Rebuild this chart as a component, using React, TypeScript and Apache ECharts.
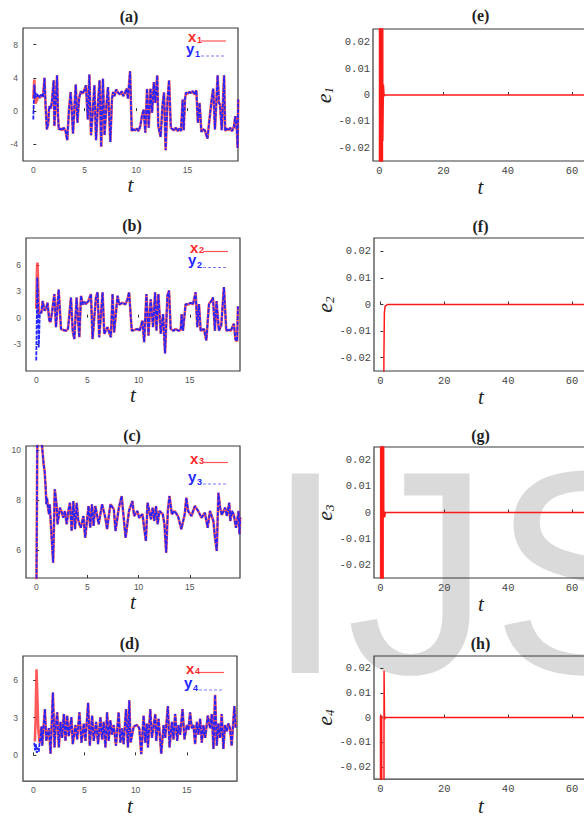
import React, { useEffect, useRef } from "react";
import * as echarts from "echarts";

// ---------- tick values ----------
const tTicksLeft = [0, 5, 10, 15];
const tTicksRight = [0, 20, 40, 60];
const yTicksA = [-4, 0, 4, 8];
const yTicksB = [-3, 0, 3, 6];
const yTicksC = [6, 8, 10];
const yTicksD = [0, 3, 6];
const eTicks = [-0.02, -0.01, 0, 0.01, 0.02];

// ---------- panel (a): x1 (drive), y1 (response) ----------
const x1 = [[0,1.5],[0.1,3.8],[0.2,0.9],[0.35,1.3],[0.5,1.9],[0.65,1.6],[0.8,2.0],[0.95,1.7],[1.09,4.0],[1.2,0.5],[1.32,-2.2],[1.45,-1.5],[1.55,0.6],[1.7,0.3],[1.82,1.2],[1.98,3.7],[2.05,-1.8],[2.15,0.5],[2.31,4.3],[2.4,-0.5],[2.48,-2.2],[2.65,-2.1],[2.8,-2.3],[2.95,-2.0],[3.14,-2.4],[3.3,-3.5],[3.47,0.2],[3.63,2.3],[3.75,0.0],[3.86,-2.7],[4.0,0.5],[4.13,3.2],[4.29,-1.4],[4.45,1.5],[4.62,2.4],[4.8,2.1],[4.95,2.5],[5.12,3.1],[5.3,-1.0],[5.45,4.4],[5.61,-2.9],[5.8,0.2],[5.94,3.1],[6.1,-3.5],[6.3,1.0],[6.44,3.7],[6.6,-4.3],[6.77,3.9],[6.93,-2.9],[7.1,0.5],[7.26,2.9],[7.49,-3.7],[7.65,1.5],[7.76,2.3],[7.9,1.8],[8.05,2.6],[8.25,2.2],[8.45,2.0],[8.6,2.4],[8.75,1.8],[8.9,2.2],[9.08,2.7],[9.2,1.5],[9.41,4.8],[9.57,-2.4],[9.74,-2.2],[9.9,-2.3],[10.05,-2.1],[10.23,-2.4],[10.4,-1.8],[10.56,-0.6],[10.73,0.2],[10.89,-2.6],[11.06,2.7],[11.22,-2.0],[11.39,2.7],[11.55,-0.2],[11.72,3.5],[11.85,1.0],[12.05,4.3],[12.15,-1.8],[12.38,-3.1],[12.55,0.5],[12.71,2.25],[12.87,-4.7],[13.04,1.2],[13.2,3.7],[13.37,-2.0],[13.55,-2.2],[13.7,-2.3],[13.85,-2.0],[14.03,-2.4],[14.2,-2.1],[14.36,-2.4],[14.52,1.4],[14.62,-2.3],[14.75,1.5],[14.85,2.25],[15.0,2.1],[15.2,2.3],[15.35,2.2],[15.5,2.4],[15.68,2.0],[15.85,2.5],[16.0,-1.4],[16.17,1.0],[16.34,-2.5],[16.5,-2.2],[16.67,-2.3],[16.93,-3.3],[17.16,-0.6],[17.35,1.5],[17.49,2.7],[17.66,-2.2],[17.92,4.3],[18.05,1.0],[18.15,0.8],[18.32,-2.3],[18.55,4.3],[18.65,-2.4],[18.8,-2.1],[18.98,-2.3],[19.15,-2.0],[19.31,-2.4],[19.5,-1.9],[19.64,-0.6],[19.8,-2.5],[19.86,-4.4],[19.92,1.4]];
const y1Head = [[0,-1.0],[0.1,3.2],[0.2,1.6],[0.35,2.1],[0.45,1.7]];
const y1 = [...y1Head, ...x1.filter((p) => p[0] >= 0.5)];

// ---------- panel (b) ----------
const x2 = [[0,1.0],[0.08,5.8],[0.12,6.3],[0.18,4.0],[0.25,0.4],[0.35,0.7],[0.5,0.5],[0.63,1.9],[0.8,0.8],[0.96,1.0],[1.1,1.7],[1.28,-0.35],[1.4,-0.5],[1.54,0.6],[1.77,2.7],[1.93,-1.1],[2.19,3.2],[2.42,-1.3],[2.6,-1.4],[2.9,-1.5],[3.1,-1.3],[3.39,2.3],[3.56,-1.5],[3.72,-2.45],[3.94,2.3],[4.21,-2.25],[4.37,2.5],[4.55,1.5],[4.7,1.8],[4.85,1.55],[5.1,1.9],[5.34,2.7],[5.5,-2.45],[5.83,2.3],[5.99,2.9],[6.15,-2.25],[6.48,2.9],[6.64,-1.85],[6.96,-1.1],[7.29,-2.25],[7.45,2.7],[7.61,-1.7],[7.94,2.5],[8.1,1.5],[8.43,1.7],[8.7,1.5],[8.91,2.1],[9.07,2.9],[9.33,-1.5],[9.6,-1.4],[9.89,-1.3],[10.1,-1.5],[10.37,-0.35],[10.54,-2.8],[10.76,2.7],[10.96,-2.05],[11.18,2.1],[11.41,-1.1],[11.61,2.9],[11.74,-1.5],[11.93,2.7],[12.16,-1.85],[12.39,0.4],[12.58,-4.1],[12.81,2.5],[12.97,3.1],[13.13,-1.3],[13.4,-1.5],[13.62,-1.3],[13.9,-1.5],[14.11,-1.4],[14.2,0.4],[14.33,-1.5],[14.59,1.55],[14.85,1.5],[15.08,1.7],[15.3,1.5],[15.57,2.9],[15.73,-1.1],[15.89,1.55],[16.06,-1.5],[16.38,-1.3],[16.61,-2.6],[16.87,1.55],[17.1,1.9],[17.26,2.3],[17.45,-1.5],[17.61,1.9],[17.84,-1.5],[18.07,-0.9],[18.33,3.5],[18.56,-1.5],[18.8,-1.4],[19.0,-1.5],[19.3,-0.7],[19.46,-2.5],[19.62,-2.7],[19.7,1.3]];
const y2Head = [[0,-4.9],[0.05,-0.5],[0.1,4.6],[0.18,2.0],[0.25,-3.4],[0.35,0.5],[0.5,0.6]];
const y2 = [...y2Head, ...x2.filter((p) => p[0] >= 0.6)];

// ---------- panel (c) ----------
const x3 = [[0,3.0],[0.1,10.2],[0.33,11.5],[0.49,10.6],[0.6,10.0],[0.72,9.43],[0.82,9.16],[0.92,8.49],[0.99,7.83],[1.05,8.09],[1.15,7.69],[1.25,7.43],[1.32,7.83],[1.38,7.36],[1.65,5.49],[1.81,8.43],[1.98,7.83],[2.08,7.03],[2.31,7.69],[2.5,7.5],[2.64,7.29],[2.8,7.56],[2.97,7.03],[3.15,7.6],[3.29,7.89],[3.46,6.76],[3.62,7.96],[3.79,6.83],[3.95,7.89],[4.1,7.2],[4.22,7.03],[4.35,6.89],[4.61,7.36],[4.78,6.49],[5.11,7.76],[5.27,6.89],[5.44,7.83],[5.6,6.96],[5.77,7.76],[6.1,7.03],[6.43,7.83],[6.59,7.56],[6.75,7.29],[6.92,6.83],[7.1,7.4],[7.25,7.83],[7.58,7.63],[7.74,6.76],[8.07,7.69],[8.34,8.16],[8.57,7.16],[8.73,6.49],[9.06,7.56],[9.39,7.96],[9.56,7.36],[9.88,7.56],[10.05,7.29],[10.38,7.43],[10.54,6.89],[10.71,6.36],[10.87,7.89],[11.04,7.56],[11.2,7.23],[11.37,7.69],[11.53,7.16],[11.7,7.76],[11.86,7.03],[12.03,7.56],[12.36,7.43],[12.52,7.03],[12.69,5.89],[12.85,7.56],[13.01,8.16],[13.25,7.43],[13.51,7.56],[13.84,7.36],[14.17,6.83],[14.5,7.43],[14.66,8.09],[14.83,7.56],[15.16,7.36],[15.49,7.76],[15.82,7.56],[16.14,7.29],[16.47,7.49],[16.74,6.89],[16.97,7.56],[17.3,7.16],[17.46,6.49],[17.63,5.96],[17.79,8.29],[17.96,7.69],[18.12,7.4],[18.45,7.69],[18.62,7.36],[18.85,7.89],[18.95,7.16],[19.11,7.56],[19.28,7.43],[19.51,6.89],[19.77,7.56],[19.85,6.63],[19.92,7.3]];
const y3 = x3;

// ---------- panel (d) ----------
const x4 = [[0.16,1.1],[0.23,2.8],[0.32,6.84],[0.49,2.2],[0.62,1.0],[0.71,1.4],[0.81,2.3],[0.88,0.76],[0.94,1.6],[1.14,3.67],[1.27,1.14],[1.53,2.15],[1.69,0.13],[1.92,4.99],[2.08,0.63],[2.18,2.15],[2.34,3.42],[2.5,0.63],[2.66,2.66],[2.82,1.39],[2.99,3.29],[3.15,1.14],[3.31,3.16],[3.47,1.52],[3.73,3.04],[3.86,0.89],[4.12,2.41],[4.29,1.27],[4.51,3.42],[4.71,1.01],[4.94,2.53],[5.1,1.14],[5.36,4.18],[5.52,0.76],[5.75,3.16],[5.91,1.14],[6.14,2.66],[6.33,0.89],[6.56,3.04],[6.72,1.27],[6.88,2.66],[7.05,0.63],[7.21,3.42],[7.37,1.14],[7.53,2.78],[7.69,1.65],[7.86,2.41],[8.08,0.76],[8.34,3.42],[8.51,1.01],[8.67,2.15],[8.83,0.89],[9.06,3.67],[9.25,0.63],[9.38,4.38],[9.51,1.01],[9.81,2.28],[10.13,2.41],[10.36,2.15],[10.55,0.1],[10.78,3.16],[10.94,1.01],[11.1,2.53],[11.2,0.63],[11.43,3.67],[11.59,1.39],[11.92,3.29],[12.01,1.14],[12.24,2.91],[12.5,0.13],[12.73,2.41],[12.89,1.39],[13.15,3.92],[13.31,0.63],[13.54,2.66],[13.7,1.27],[13.86,3.29],[14.06,1.14],[14.19,2.41],[14.35,1.65],[14.58,3.67],[14.77,1.27],[15.0,2.41],[15.16,2.03],[15.32,3.42],[15.49,2.15],[15.65,2.41],[15.81,0.89],[15.97,2.66],[16.14,1.65],[16.3,2.91],[16.46,1.01],[16.62,2.41],[16.79,1.39],[17.05,3.16],[17.27,2.15],[17.44,3.29],[17.6,0.51],[17.76,4.81],[17.92,0.76],[18.08,2.53],[18.25,1.39],[18.41,3.29],[18.57,0.51],[18.73,2.41],[18.9,1.9],[19.06,2.53],[19.22,2.15],[19.38,0.76],[19.64,3.92],[19.77,2.2]];
const y4Head = [[0.1,1.0],[0.18,0.4],[0.25,0.9],[0.35,0.2],[0.45,0.6],[0.55,0.3],[0.62,1.0]];
const y4 = [...y4Head, ...x4.filter((p) => p[0] >= 0.7)];

// ---------- synchronization errors ----------
const e1 = [[0,-1.5],[0.05,1.2],[0.45,1.0],[0.5,-0.8],[0.9,-0.5],[0.97,0.4],[1.05,-0.0175],[1.25,0.004],[1.45,-0.0004],[1.8,0],[65,0]];
const e2 = [[0,-3.5],[0.6,-1.2],[0.95,-0.15],[1.1,-0.02],[1.25,-0.003],[1.5,-0.0006],[2.2,0],[65,0]];
const e3 = [[0,-2.5],[0.1,0.8],[0.22,-0.6],[0.35,0.7],[0.5,-0.5],[0.62,0.4],[0.78,-0.3],[0.92,0.15],[1.05,-0.002],[1.2,0.0005],[1.35,-0.0018],[1.55,0],[65,0]];
const e4 = [[0,-0.8],[0.03,0.0006],[0.42,0.0006],[0.47,-0.9],[0.9,-0.4],[1.15,0.019],[1.3,-0.0008],[1.5,0.0002],[1.8,0],[65,0]];

// watermark letters (publisher mark in the page)
const watermark = ["I", "J", "S"];
const watermarkX = [265, 346, 491];

const leftPanels = [
  { label: "(a)", n: "1", x: x1, y: y1, yMin: -6, yMax: 10, yTicks: yTicksA, box: [23, 28, 215, 133], title: [129, 16], leg: [188, 198] },
  { label: "(b)", n: "2", x: x2, y: y2, yMin: -6.1, yMax: 9.1, yTicks: yTicksB, box: [26, 238, 214, 133], title: [132, 225], leg: [190, 200] },
  { label: "(c)", n: "3", x: x3, y: y3, yMin: 4.88, yMax: 10.16, yTicks: yTicksC, box: [26, 446, 214, 132], title: [132, 435], leg: [190, 200] },
  { label: "(d)", n: "4", x: x4, y: y4, yMin: -2.05, yMax: 7.9, yTicks: yTicksD, box: [23, 656, 214, 131], title: [129.5, 643.5], leg: [186, 196] },
];
const legendY = [[41, 56], [251.5, 267.5], [462.5, 484], [672.5, 690]];

const rightPanels = [
  { label: "(e)", n: "1", e: e1, box: [373, 29, 215, 132], title: [480.5, 15.5] },
  { label: "(f)", n: "2", e: e2, box: [374, 238, 214, 133], title: [480.5, 226.5] },
  { label: "(g)", n: "3", e: e3, box: [374, 447, 214, 131], title: [480.5, 435] },
  { label: "(h)", n: "4", e: e4, box: [374, 656, 214, 131], title: [480.5, 643.5] },
];

const RED = "#ff2b2b";
const BLUE = "#2424ff";

function buildOption() {
  const grid: any[] = [];
  const xAxis: any[] = [];
  const yAxis: any[] = [];
  const series: any[] = [];
  const graphic: any[] = [];

  watermark.forEach((ch, k) => {
    graphic.push({
      type: "text", x: watermarkX[k], y: 572, z: -100, silent: true,
      style: { text: ch, font: '290px "Liberation Sans"', fill: "#dadada", verticalAlign: "middle", align: "left" },
    });
  });

  const frame = { show: true, borderColor: "#3a3a3a", borderWidth: 1.2, backgroundColor: "transparent" };
  const tickStyle = { color: "#333", width: 1 };

  leftPanels.forEach((p, i) => {
    const [l, t, w, h] = p.box;
    grid.push({ left: l, top: t, width: w, height: h, ...frame });
    xAxis.push({
      gridIndex: i, type: "value", min: -1, max: 19.9,
      splitLine: { show: false }, axisLine: { show: false },
      axisTick: { show: true, inside: true, length: 3, customValues: tTicksLeft, lineStyle: tickStyle },
      axisLabel: { customValues: tTicksLeft, formatter: (v: number) => String(v), fontSize: 8.5, color: "#555", fontFamily: "Liberation Sans", margin: 4 },
      name: "t", nameLocation: "middle", nameGap: 11,
      nameTextStyle: { fontFamily: "Liberation Serif", fontStyle: "italic", fontSize: 21, color: "#222" },
    });
    yAxis.push({
      gridIndex: i, type: "value", min: p.yMin, max: p.yMax,
      splitLine: { show: false }, axisLine: { show: false },
      axisTick: { show: true, inside: true, length: 3, customValues: p.yTicks, lineStyle: tickStyle },
      axisLabel: { customValues: p.yTicks, formatter: (v: number) => String(v), fontSize: 8.5, color: "#555", fontFamily: "Liberation Sans", margin: 5 },
    });
    series.push({
      type: "line", name: "x" + p.n, xAxisIndex: i, yAxisIndex: i, data: p.x, showSymbol: false, silent: true, z: 2,
      lineStyle: { color: "#ff3030", width: 2.6, opacity: 0.8 },
    });
    series.push({
      type: "line", name: "y" + p.n, xAxisIndex: i, yAxisIndex: i, data: p.y, showSymbol: false, silent: true, z: 3,
      lineStyle: { color: BLUE, width: 1.8, type: [4, 1.2] },
    });
    graphic.push({
      type: "text", x: p.title[0], y: p.title[1], silent: true,
      style: { text: p.label, font: 'bold 16px "Liberation Serif"', fill: "#222", align: "center", verticalAlign: "middle" },
    });
    const [lx, lineX] = p.leg;
    const [ly1, ly2] = legendY[i];
    graphic.push({ type: "text", x: lx, y: ly1 + 3, silent: true, style: { text: "x", font: 'bold 15px "Liberation Sans"', fill: RED, align: "left", verticalAlign: "bottom" } });
    graphic.push({ type: "text", x: lx + 9, y: ly1 + 3, silent: true, style: { text: p.n, font: 'bold 9px "Liberation Sans"', fill: RED, align: "left", verticalAlign: "bottom" } });
    graphic.push({ type: "line", silent: true, shape: { x1: lineX + 3, y1: ly1, x2: lineX + 28, y2: ly1 }, style: { stroke: RED, lineWidth: 1.2, opacity: 0.8 } });
    graphic.push({ type: "text", x: lx - 2, y: ly2 - 0.5, silent: true, style: { text: "y", font: 'bold 15px "Liberation Sans"', fill: BLUE, align: "left", verticalAlign: "bottom" } });
    graphic.push({ type: "text", x: lx + 7, y: ly2 + 2, silent: true, style: { text: p.n, font: 'bold 9px "Liberation Sans"', fill: BLUE, align: "left", verticalAlign: "bottom" } });
    graphic.push({ type: "line", silent: true, shape: { x1: lineX + 3, y1: ly2, x2: lineX + 28, y2: ly2 }, style: { stroke: BLUE, lineWidth: 1.2, opacity: 0.6, lineDash: [3, 2] } });
  });

  rightPanels.forEach((p, j) => {
    const i = j + 4;
    const [l, t, w, h] = p.box;
    grid.push({ left: l, top: t, width: w, height: h, ...frame });
    xAxis.push({
      gridIndex: i, type: "value", min: -2, max: 65,
      splitLine: { show: false }, axisLine: { show: false },
      axisTick: { show: true, inside: true, length: 3, customValues: tTicksRight, lineStyle: tickStyle },
      axisLabel: { customValues: tTicksRight, formatter: (v: number) => String(v), fontSize: 10.5, color: "#444", fontFamily: "Liberation Mono", margin: 4 },
      name: "t", nameLocation: "middle", nameGap: 11,
      nameTextStyle: { fontFamily: "Liberation Serif", fontStyle: "italic", fontSize: 21, color: "#222" },
    });
    yAxis.push({
      gridIndex: i, type: "value", min: -0.025, max: 0.025,
      splitLine: { show: false }, axisLine: { show: false },
      axisTick: { show: true, inside: true, length: 3, customValues: eTicks, lineStyle: tickStyle },
      axisLabel: { customValues: eTicks, formatter: (v: number) => String(v), fontSize: 10.5, color: "#444", fontFamily: "Liberation Mono", margin: 3 },
      name: "{e|e}{s|" + p.n + "}", nameLocation: "middle", nameRotate: 90, nameGap: 38,
      nameTextStyle: {
        rich: {
          e: { fontFamily: "Liberation Serif", fontStyle: "italic", fontSize: 22, color: "#222", verticalAlign: "bottom" },
          s: { fontFamily: "Liberation Serif", fontStyle: "italic", fontSize: 13, color: "#222", verticalAlign: "bottom" },
        },
      },
    });
    series.push({
      type: "line", name: "e" + p.n, xAxisIndex: i, yAxisIndex: i, data: p.e, showSymbol: false, silent: true, z: 2,
      lineStyle: { color: "#ff1a1a", width: 1.5 },
    });
    graphic.push({
      type: "text", x: p.title[0], y: p.title[1], silent: true,
      style: { text: p.label, font: 'bold 16px "Liberation Serif"', fill: "#222", align: "center", verticalAlign: "middle" },
    });
  });

  return { animation: false, backgroundColor: "#ffffff", grid, xAxis, yAxis, series, graphic };
}

export default function App() {
  const ref = useRef<HTMLDivElement>(null);
  useEffect(() => {
    if (!ref.current) return;
    const chart = echarts.init(ref.current, undefined, { renderer: "svg" });
    chart.setOption(buildOption() as any);
    return () => chart.dispose();
  }, []);
  return (
    <div style={{ position: "absolute", left: 0, top: 0, width: 584, height: 817, overflow: "hidden", background: "#fff" }}>
      <div ref={ref} style={{ width: 600, height: 817 }} />
    </div>
  );
}
